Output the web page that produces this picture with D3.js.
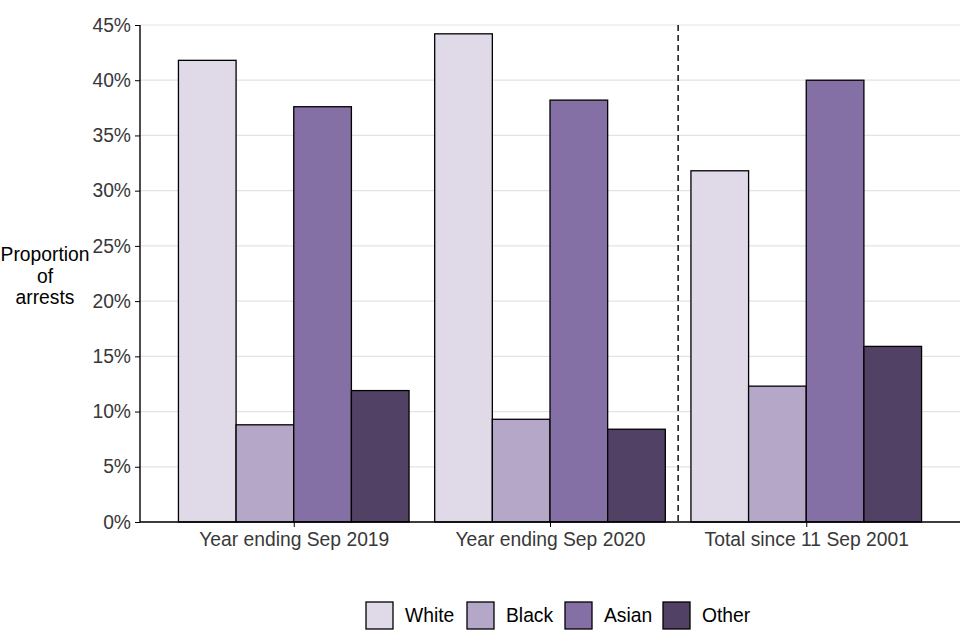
<!DOCTYPE html>
<html>
<head>
<meta charset="utf-8">
<script src="https://cdn.jsdelivr.net/npm/d3@7"></script>
<style>
  body { margin: 0; background: #fff; }
  text { font-family: "Liberation Sans", Arial, sans-serif; }
</style>
</head>
<body>
<div id="chart"></div>
<script>
const groups = ["Year ending Sep 2019", "Year ending Sep 2020", "Total since 11 Sep 2001"];
const ethnicities = ["White", "Black", "Asian", "Other"];
const colours = ["#e0dae8", "#b4a7c8", "#8470a5", "#514265"];
const white = [41.8, 44.2, 31.8];
const black = [8.8, 9.3, 12.3];
const asian = [37.6, 38.2, 40.0];
const other = [11.9, 8.4, 15.9];
const yTicks = [0, 5, 10, 15, 20, 25, 30, 35, 40, 45];

const series = [white, black, asian, other];

const width = 960, height = 640;
const margin = { top: 25, right: 0, bottom: 118, left: 140 };
const innerW = width - margin.left - margin.right;
const innerH = height - margin.top - margin.bottom;
const fs = 19.3;

const svg = d3.select("#chart").append("svg")
  .attr("width", width)
  .attr("height", height);

const g = svg.append("g")
  .attr("transform", `translate(${margin.left},${margin.top})`);

// ggplot style discrete scale: 0.6 unit expansion each side
const unit = innerW / (groups.length - 1 + 1.2);
const x = d3.scalePoint().domain(groups).range([0.6 * unit, innerW - 0.6 * unit]);
const barW = unit * 0.9 / ethnicities.length;

const y = d3.scaleLinear().domain([0, 45]).range([innerH, 0]);

// gridlines
g.selectAll("line.grid").data(yTicks).enter().append("line")
  .attr("class", "grid")
  .attr("x1", 0).attr("x2", innerW)
  .attr("y1", d => y(d)).attr("y2", d => y(d))
  .attr("stroke", "#e3e3e3")
  .attr("stroke-width", 1.2);

// bars
const rows = [];
groups.forEach((grp, gi) => {
  ethnicities.forEach((eth, ei) => {
    rows.push({ grp, eth, ei, value: series[ei][gi] });
  });
});

g.selectAll("rect.bar").data(rows).enter().append("rect")
  .attr("class", "bar")
  .attr("x", d => x(d.grp) - unit * 0.45 + d.ei * barW)
  .attr("y", d => y(d.value))
  .attr("width", barW)
  .attr("height", d => innerH - y(d.value))
  .attr("fill", d => colours[d.ei])
  .attr("stroke", "#000")
  .attr("stroke-width", 1.3);

// dashed separator between the annual and cumulative groups
const sepX = (x(groups[1]) + x(groups[2])) / 2;
g.append("line")
  .attr("x1", sepX).attr("x2", sepX)
  .attr("y1", 0).attr("y2", innerH)
  .attr("stroke", "#000")
  .attr("stroke-width", 1.4)
  .attr("stroke-dasharray", "6,4");

// axes
const yAxis = d3.axisLeft(y).tickValues(yTicks).tickFormat(d => d + "%").tickSize(5).tickPadding(4);
const yG = g.append("g").call(yAxis);
yG.select(".domain").remove();
yG.selectAll("text").attr("font-size", fs).attr("fill", "#383838");
yG.selectAll("line").attr("stroke", "#000");
g.append("line")
  .attr("x1", 0).attr("x2", 0).attr("y1", 0).attr("y2", innerH)
  .attr("stroke", "#000").attr("stroke-width", 1.4);

const xAxis = d3.axisBottom(x).tickSize(5).tickPadding(5);
const xG = g.append("g").attr("transform", `translate(0,${innerH})`).call(xAxis);
xG.select(".domain").remove();
xG.selectAll("text").attr("font-size", fs).attr("fill", "#383838");
xG.selectAll("line").attr("stroke", "#000");
g.append("line")
  .attr("x1", 0).attr("x2", innerW).attr("y1", innerH).attr("y2", innerH)
  .attr("stroke", "#000").attr("stroke-width", 1.4);

// y axis title
svg.append("text")
  .attr("x", 45).attr("y", 261)
  .attr("text-anchor", "middle")
  .attr("font-size", fs)
  .attr("fill", "#000")
  .selectAll("tspan").data(["Proportion", "of", "arrests"]).enter().append("tspan")
  .attr("x", 45)
  .attr("dy", (d, i) => i === 0 ? 0 : 21.5)
  .text(d => d);

// legend
const legendX = [366, 467, 565, 663];
const legend = svg.append("g").attr("transform", "translate(0,602)");
ethnicities.forEach((eth, i) => {
  legend.append("rect")
    .attr("x", legendX[i]).attr("y", 0)
    .attr("width", 27).attr("height", 27)
    .attr("fill", colours[i])
    .attr("stroke", "#000")
    .attr("stroke-width", 1.3);
  legend.append("text")
    .attr("x", legendX[i] + 39).attr("y", 20)
    .attr("font-size", fs)
    .attr("fill", "#000")
    .text(eth);
});
</script>
</body>
</html>
